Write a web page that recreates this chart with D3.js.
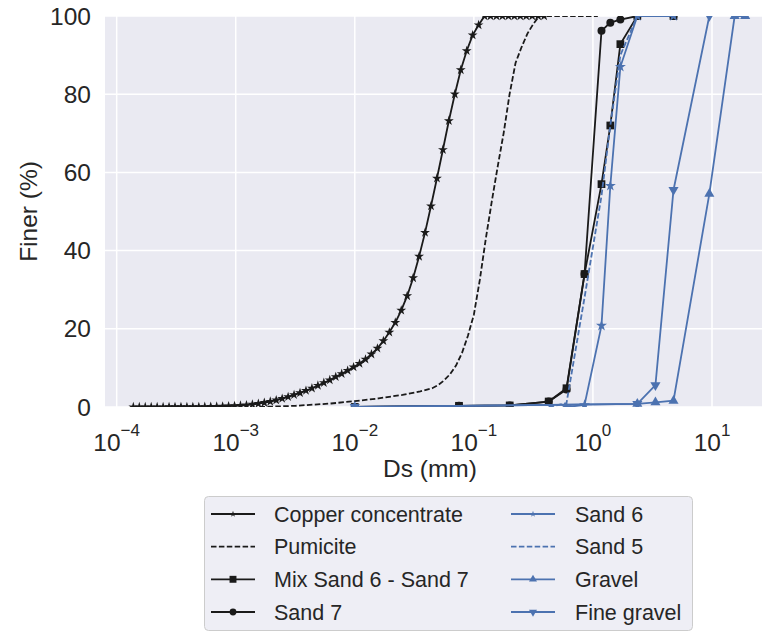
<!DOCTYPE html>
<html>
<head>
<meta charset="utf-8">
<script src="https://cdn.jsdelivr.net/npm/d3@7"></script>
<style>
  body { margin: 0; background: #fff; }
  svg text { font-family: "Liberation Sans", Arial, sans-serif; fill: #262626; }
</style>
</head>
<body>
<div id="chart"></div>
<script>
// ---- data (sizes in mm, finer in %) ----
var copperSize = [
	1.380e-4, 1.549e-4, 1.738e-4, 1.950e-4, 2.188e-4, 2.455e-4, 2.754e-4, 3.090e-4, 3.467e-4, 3.890e-4,
	4.365e-4, 4.898e-4, 5.495e-4, 6.166e-4, 6.918e-4, 7.762e-4, 8.710e-4, 9.772e-4,
	1.096e-3, 1.230e-3, 1.380e-3, 1.549e-3, 1.738e-3, 1.950e-3, 2.188e-3, 2.455e-3, 2.754e-3, 3.090e-3,
	3.467e-3, 3.890e-3, 4.365e-3, 4.898e-3, 5.495e-3, 6.166e-3, 6.918e-3, 7.762e-3, 8.710e-3, 9.772e-3,
	1.096e-2, 1.230e-2, 1.380e-2, 1.549e-2, 1.738e-2, 1.950e-2, 2.188e-2, 2.455e-2, 2.754e-2, 3.090e-2,
	3.467e-2, 3.890e-2, 4.365e-2, 4.898e-2, 5.495e-2, 6.166e-2, 6.918e-2, 7.762e-2, 8.710e-2, 9.772e-2,
	1.096e-1, 1.230e-1, 1.380e-1, 1.549e-1, 1.738e-1, 1.950e-1, 2.188e-1, 2.455e-1, 2.754e-1, 3.090e-1,
	3.467e-1, 3.890e-1
];
var copperFiner = [
	0, 0, 0, 0, 0, 0, 0.01, 0.01, 0.02, 0.03,
	0.04, 0.05, 0.07, 0.09, 0.12, 0.16, 0.21, 0.28,
	0.38, 0.5, 0.65, 0.85, 1.1, 1.4, 1.75, 2.15, 2.6, 3.1,
	3.6, 4.2, 4.8, 5.5, 6.2, 6.9, 7.7, 8.5, 9.3, 10.2,
	11.1, 12.2, 13.5, 15.0, 16.9, 19.1, 21.6, 24.7, 28.4, 33.0,
	38.5, 44.6, 51.4, 58.5, 65.8, 73.2, 80.0, 86.2, 91.1, 95.1,
	97.7, 100, 100, 100, 100, 100, 100, 100, 100, 100,
	100, 100
];
var pumiciteSize = [0.001585, 0.003162, 0.00631, 0.01, 0.01585, 0.02512, 0.03548, 0.04467, 0.05012, 0.05623,
	0.0631, 0.07079, 0.07943, 0.08913, 0.1, 0.1122, 0.1259, 0.1413, 0.1585, 0.1778,
	0.1995, 0.2239, 0.2512, 0.2818, 0.3162, 0.3548, 1.1];
var pumiciteFiner = [0, 0.3, 0.9, 1.5, 2.2, 3.1, 4.0, 4.8, 5.6, 6.8,
	8.4, 10.6, 13.8, 18.2, 23.6, 32.5, 43.0, 52.5, 61.5, 70,
	80, 88, 92, 95.5, 98, 100, 100];

var mixSize = [0.01, 0.075, 0.2, 0.425, 0.6, 0.85, 1.18, 1.4, 1.7, 2.36, 4.75];
var mixFiner = [0, 0.3, 0.4, 1.4, 4.8, 34, 57, 72, 92.8, 100, 100];
var sand7Size = [0.01, 0.075, 0.2, 0.425, 0.6, 0.85, 1.18, 1.4, 1.7, 2.36, 4.75];
var sand7Finer = [0, 0.3, 0.4, 1.4, 4.5, 34, 96.2, 98.3, 99.1, 100, 100];
var sand6Size = [0.6, 0.85, 1.18, 1.4, 1.7, 2.36, 4.75];
var sand6Finer = [0, 0.5, 20.8, 56.6, 87, 100, 100];
var sand5Size = [0.425, 0.6, 0.85, 1.18, 1.4, 1.7, 2.36, 4.75];
var sand5Finer = [0, 1, 28, 54, 72, 90, 100, 100];
var gravelSize = [0.01, 2.36, 3.35, 4.75, 9.5, 15.5, 19];
var gravelFiner = [0, 0.8, 1.2, 1.6, 54.5, 100, 100];
var fineGravelSize = [0.01, 2.36, 3.35, 4.75, 9.5];
var fineGravelFiner = [0, 0.8, 5.6, 55.5, 100];

var yTicks = [0, 20, 40, 60, 80, 100];
var xTickExp = [-4, -3, -2, -1, 0, 1];

var black = "#1a1a1a", blue = "#4c72b0";
var series = [
	{ name: "Copper concentrate", x: copperSize, y: copperFiner, color: black, dash: null, symbol: d3.symbolStar, size: 30, legendSize: 12 },
	{ name: "Pumicite", x: pumiciteSize, y: pumiciteFiner, color: black, dash: "5.5,2.4", symbol: null },
	{ name: "Mix Sand 6 - Sand 7", x: mixSize, y: mixFiner, color: black, dash: null, symbol: d3.symbolSquare, size: 60, legendSize: 48 },
	{ name: "Sand 7", x: sand7Size, y: sand7Finer, color: black, dash: null, symbol: d3.symbolCircle, size: 50, legendSize: 36 },
	{ name: "Sand 6", x: sand6Size, y: sand6Finer, color: blue, dash: null, symbol: d3.symbolStar, size: 38, legendSize: 12 },
	{ name: "Sand 5", x: sand5Size, y: sand5Finer, color: blue, dash: "5.5,2.4", symbol: null },
	{ name: "Gravel", x: gravelSize, y: gravelFiner, color: blue, dash: null, symbol: d3.symbolTriangle, size: 44, legendSize: 28, rot: 0 },
	{ name: "Fine gravel", x: fineGravelSize, y: fineGravelFiner, color: blue, dash: null, symbol: d3.symbolTriangle, size: 44, legendSize: 28, rot: 180 }
];

// ---- layout ----
var W = 762, H = 633;
var plot = { left: 105, top: 16, right: 762, bottom: 407 };

var svg = d3.select("#chart").append("svg")
	.attr("width", W)
	.attr("height", H);

var x = d3.scaleLog()
	.domain([Math.pow(10, -4.098), Math.pow(10, 1.42)])
	.range([plot.left, plot.right]);
var y = d3.scaleLinear()
	.domain([0, 100])
	.range([plot.bottom, plot.top]);

svg.append("rect")
	.attr("x", plot.left).attr("y", plot.top)
	.attr("width", plot.right - plot.left).attr("height", plot.bottom - plot.top)
	.attr("fill", "#eaeaf2");

svg.append("clipPath").attr("id", "plot-area")
	.append("rect")
	.attr("x", plot.left).attr("y", plot.top)
	.attr("width", plot.right - plot.left).attr("height", plot.bottom - plot.top);

// grid
var grid = svg.append("g").attr("stroke", "#fff").attr("stroke-width", 1.5);
grid.selectAll(".gx").data(xTickExp).enter().append("line")
	.attr("x1", function(d) { return x(Math.pow(10, d)); })
	.attr("x2", function(d) { return x(Math.pow(10, d)); })
	.attr("y1", plot.top).attr("y2", plot.bottom);
grid.selectAll(".gy").data(yTicks).enter().append("line")
	.attr("x1", plot.left).attr("x2", plot.right)
	.attr("y1", function(d) { return y(d); })
	.attr("y2", function(d) { return y(d); });

// tick labels
svg.append("g").selectAll("text").data(yTicks).enter().append("text")
	.attr("x", 91)
	.attr("y", function(d) { return y(d) + 8.5; })
	.attr("text-anchor", "end")
	.attr("font-size", 24.5)
	.text(function(d) { return d; });

var xl = svg.append("g").selectAll("text").data(xTickExp).enter().append("text")
	.attr("x", function(d) { return x(Math.pow(10, d)); })
	.attr("y", 451)
	.attr("text-anchor", "middle")
	.attr("font-size", 24.5);
xl.append("tspan").text("10");
xl.append("tspan")
	.attr("dy", -15)
	.attr("font-size", 17)
	.text(function(d) { return d < 0 ? "\u2212" + (-d) : String(d); });

svg.append("text")
	.attr("x", 430).attr("y", 477)
	.attr("text-anchor", "middle")
	.attr("font-size", 24.5)
	.text("Ds (mm)");

svg.append("text")
	.attr("transform", "translate(37," + ((plot.top + plot.bottom) / 2) + ") rotate(-90)")
	.attr("text-anchor", "middle")
	.attr("font-size", 24.5)
	.text("Finer (%)");

// series
var chartGroup = svg.append("g").attr("clip-path", "url(#plot-area)");
var line = d3.line()
	.x(function(d) { return x(d[0]); })
	.y(function(d) { return y(d[1]); });

series.forEach(function(s) {
	var pts = s.x.map(function(v, i) { return [v, s.y[i]]; });
	var g = chartGroup.append("g");
	g.append("path")
		.attr("d", line(pts))
		.attr("fill", "none")
		.attr("stroke", s.color)
		.attr("stroke-width", 1.8)
		.attr("stroke-dasharray", s.dash);
	if (s.symbol) {
		g.selectAll("path.m").data(pts).enter().append("path")
			.attr("class", "m")
			.attr("d", d3.symbol().type(s.symbol).size(s.size))
			.attr("transform", function(d) { return "translate(" + x(d[0]) + "," + y(d[1]) + ") rotate(" + (s.rot || 0) + ")"; })
			.attr("fill", s.color);
	}
});

// legend
var legend = svg.append("g");
legend.append("rect")
	.attr("x", 204.5).attr("y", 496.5)
	.attr("width", 488).attr("height", 134)
	.attr("rx", 4)
	.attr("fill", "#eeeef5")
	.attr("stroke", "#cccccc");

var colX = [211, 511], textX = [274, 575], rowY = [514, 546.7, 579.3, 612];
series.forEach(function(s, i) {
	var c = Math.floor(i / 4), r = i % 4;
	var item = legend.append("g").attr("transform", "translate(" + colX[c] + "," + rowY[r] + ")");
	item.append("line")
		.attr("x1", 0).attr("x2", 44)
		.attr("stroke", s.color)
		.attr("stroke-width", 1.8)
		.attr("stroke-dasharray", s.dash);
	if (s.symbol) {
		item.append("path")
			.attr("d", d3.symbol().type(s.symbol).size(s.legendSize))
			.attr("transform", "translate(22,0) rotate(" + (s.rot || 0) + ")")
			.attr("fill", s.color);
	}
	legend.append("text")
		.attr("x", textX[c]).attr("y", rowY[r] + 7.5)
		.attr("font-size", 21.5)
		.text(s.name);
});
</script>
</body>
</html>
